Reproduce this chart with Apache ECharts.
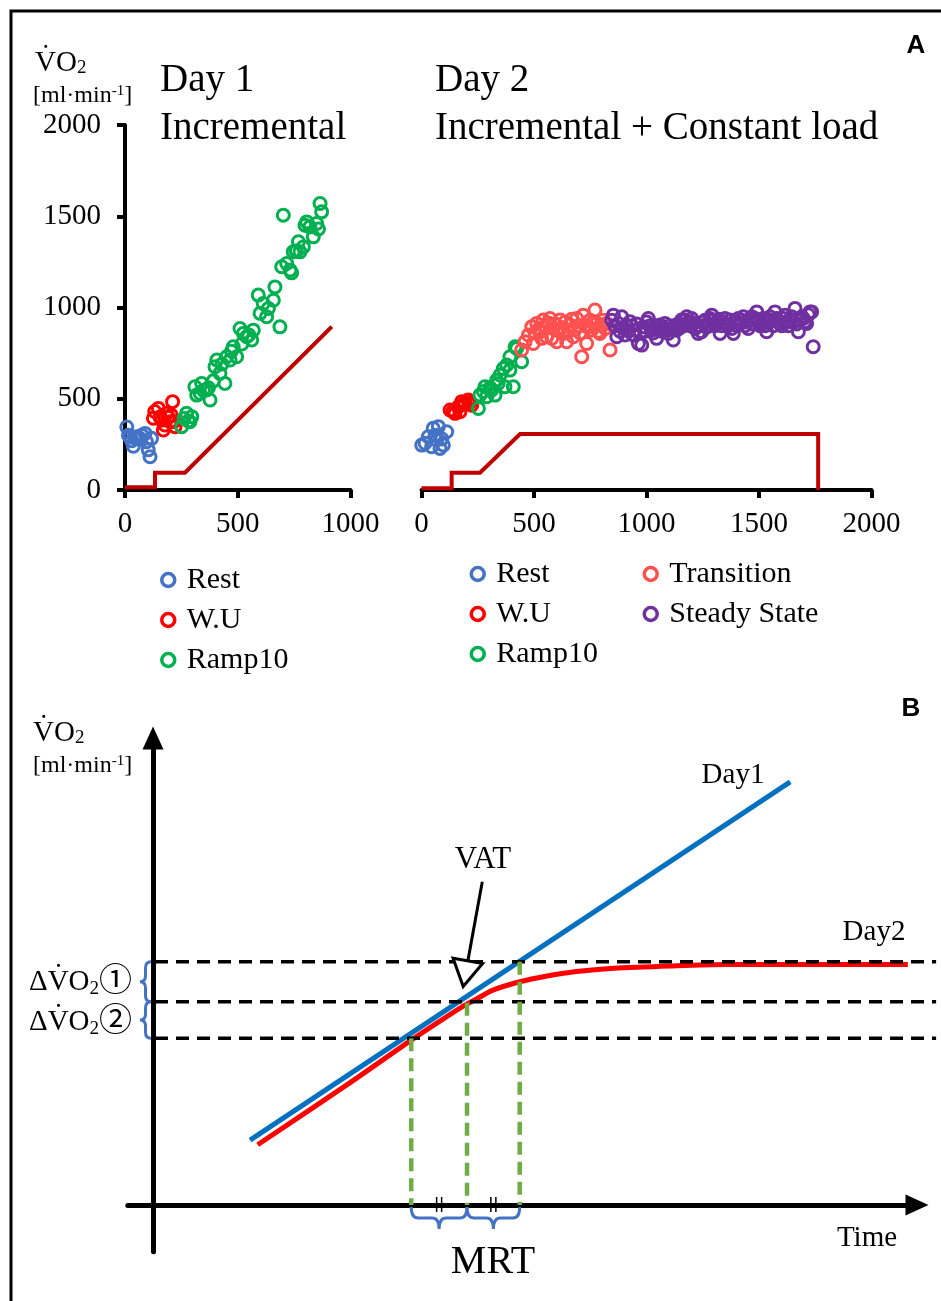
<!DOCTYPE html>
<html>
<head>
<meta charset="utf-8">
<script src="https://cdn.jsdelivr.net/npm/echarts@6/dist/echarts.min.js"></script>
<style>
  html, body { margin: 0; padding: 0; background: #fff; }
  #chart { width: 941px; height: 1301px; }
</style>
</head>
<body>
<div id="chart"></div>
<script>
// ---------- Panel A, Day 1: incremental test (time [s], VO2 [ml/min]) ----------
const day1Rest = [[8,345],[15,300],[22,290],[30,270],[37,240],[45,285],[52,292],[60,280],[66,283],[75,300],[89,310],[95,265],[103,220],[111,182],[118,283]];
const day1WarmUp = [[126,393],[132,430],[148,447],[155,400],[163,383],[170,329],[177,356],[185,420],[192,398],[200,374],[205,410],[211,484],[218,375],[222,347]];
const day1Ramp = [[251,347],[262,392],[273,420],[281,378],[288,374],[296,402],[310,566],[318,520],[333,530],[340,584],[348,545],[362,548],[370,560],[377,493],[392,598],[399,675],[407,712],[421,639],[430,690],[443,584],[451,730],[466,712],[472,760],[480,785],[495,730],[510,885],[518,800],[525,858],[540,840],[549,850],[562,822],[569,876],[591,1068],[599,968],[613,1022],[628,949],[636,995],[658,1040],[665,1113],[687,894],[695,1223],[702,1506],[717,1241],[732,1205],[739,1190],[746,1305],[760,1310],[769,1360],[776,1305],[791,1332],[798,1451],[806,1469],[820,1442],[835,1387],[850,1460],[858,1430],[865,1570],[872,1524]];
const day1Load = [[0,15],[133,15],[133,95],[266,95],[917,895]];

// ---------- Panel A, Day 2: incremental + constant load ----------
const day2Rest = [[1,246],[16,256],[30,292],[45,237],[52,338],[60,300],[67,274],[75,347],[82,228],[90,280],[97,246],[112,319]];
const day2WarmUp = [[127,438],[140,430],[149,420],[164,456],[171,429],[179,484],[186,470],[193,475],[208,493],[215,480],[223,465]];
const day2Ramp = [[253,447],[260,520],[275,540],[282,566],[290,511],[305,560],[312,548],[327,520],[334,602],[341,584],[349,630],[364,666],[371,566],[379,685],[393,657],[393,730],[408,566],[416,785],[423,776],[445,703]];
const day2Transition = [[445,767],[460,812],[475,849],[490,894],[497,803],[505,860],[512,913],[520,880],[527,867],[534,831],[541,931],[549,900],[556,840],[564,915],[571,940],[579,831],[586,885],[594,910],[601,812],[609,880],[616,931],[623,890],[630,858],[638,920],[645,812],[652,870],[660,904],[667,935],[675,840],[682,880],[690,940],[697,900],[705,860],[712,730],[719,958],[727,900],[734,803],[741,894],[749,930],[756,876],[764,915],[771,986],[779,913],[786,870],[793,858],[801,904],[808,930],[816,885],[823,913],[838,767]];
const day2Steady = [[845,930],[853,958],[860,900],[868,840],[875,913],[882,870],[890,949],[897,890],[904,849],[912,900],[920,870],[927,922],[934,900],[942,850],[949,876],[957,910],[964,803],[972,860],[979,794],[986,894],[994,870],[1001,920],[1008,940],[1016,900],[1023,876],[1030,860],[1038,900],[1045,831],[1053,880],[1060,904],[1068,870],[1075,890],[1082,913],[1090,880],[1097,858],[1104,900],[1112,880],[1119,822],[1127,900],[1134,876],[1141,910],[1149,890],[1156,931],[1164,900],[1171,930],[1179,949],[1186,920],[1194,900],[1201,940],[1208,915],[1216,885],[1223,900],[1230,858],[1238,900],[1245,867],[1253,920],[1260,930],[1268,894],[1275,900],[1282,940],[1290,958],[1297,930],[1305,900],[1312,913],[1320,935],[1327,858],[1334,900],[1342,920],[1349,940],[1357,910],[1364,900],[1371,931],[1379,885],[1386,858],[1393,920],[1401,900],[1408,940],[1416,913],[1423,930],[1430,949],[1438,900],[1445,920],[1452,885],[1460,930],[1468,949],[1475,910],[1482,940],[1490,976],[1497,930],[1505,900],[1512,913],[1519,940],[1527,900],[1534,867],[1542,920],[1549,949],[1556,930],[1564,900],[1571,976],[1579,940],[1586,920],[1593,913],[1601,900],[1608,940],[1616,958],[1623,920],[1630,900],[1638,931],[1645,949],[1652,920],[1660,995],[1667,910],[1675,867],[1682,930],[1690,949],[1697,940],[1704,922],[1712,913],[1719,960],[1727,976],[1734,976],[1741,785]];
const day2Load = [[0,10],[134,10],[134,95],[260,95],[438,307],[1763,307],[1763,0]];

const day1TimeTicks = [0, 1000, 500];   // min, max, step
const day2TimeTicks = [0, 2000, 500];
const vo2Ticks = [0, 2000, 500];

// ---------- Panel B: schematic (arbitrary time / VO2 units) ----------
const bTimeRange = [-3.3, 100];
const bVo2Range = [-10, 100];
const day1Line = [[12.7,13.9],[83.4,90.6]];
const day2Curve = [[13.7,12.9],[25.8,26.2],[33.7,35.2],[37.1,38.9],[40.6,42.6],[42.1,43.9],[44.5,46.0],[48.0,47.8],[51.4,49.0],[55.4,50.0],[60.3,50.7],[67.7,51.2],[75.1,51.5],[85.0,51.5],[98.8,51.5]];
const vo2Levels = [52.1, 43.5, 35.7];
const levelSpan = [0, 102.5];
const mrtDrops = [[33.8,35.7],[41.1,43.3],[48.0,52.1]];
const deltaBraces = [[52.1,43.5],[43.5,35.7]];
const mrtBraces = [[33.8,41.1],[41.1,48.0]];
const vatArrow = [[43.1,69.2,40.6,46.8]];

const COLORS = {
  'Rest': '#4472C4', 'W.U': '#FF0000', 'Ramp10': '#00B050',
  'Transition': '#FF5050', 'Steady State': '#7030A0'
};
const SERIF = "'Liberation Serif','Times New Roman','Noto Sans CJK JP',serif";
const LOAD_RED = '#C00000';

const chart = echarts.init(document.getElementById('chart'), null, { renderer: 'canvas' });

function scatter(name, data, idx) {
  return {
    type: 'scatter', name, data, xAxisIndex: idx, yAxisIndex: idx,
    symbol: 'circle', symbolSize: 12, silent: true, z: 3,
    itemStyle: { color: 'rgba(255,255,255,0)', borderColor: COLORS[name], borderWidth: 3, opacity: 1 }
  };
}
function loadLine(data, idx) {
  return {
    type: 'line', data, xAxisIndex: idx, yAxisIndex: idx, showSymbol: false, symbol: 'none',
    silent: true, z: 2, lineStyle: { color: LOAD_RED, width: 4, cap: 'butt', join: 'miter' }
  };
}
function legendItem(name) {
  return { name, icon: 'circle', itemStyle: { color: 'rgba(255,255,255,0)', borderColor: COLORS[name], borderWidth: 3.5, opacity: 1 } };
}
function legend(names, left, top) {
  return {
    data: names.map(legendItem), orient: 'vertical', left, top, padding: 0,
    itemWidth: 13, itemHeight: 13, itemGap: 10, selectedMode: false,
    textStyle: { fontFamily: SERIF, fontSize: 30, color: '#000', padding: [0, 0, 0, 7] }
  };
}
const plainNumber = (v) => String(v);
function timeAxis(grid, ticks) {
  return {
    type: 'value', gridIndex: grid, min: ticks[0], max: ticks[1], interval: ticks[2],
    axisLine: { show: true, onZero: true, lineStyle: { color: '#000', width: 4 } },
    axisTick: { show: true, length: 8, lineStyle: { color: '#000', width: 4 } },
    axisLabel: { show: true, fontFamily: SERIF, fontSize: 29, color: '#000', margin: 20, formatter: plainNumber },
    splitLine: { show: false }
  };
}

// Horizontal dashed reference level, running past the end of the time axis
function levelItem(params, api) {
  const a = api.coord([levelSpan[0], api.value(0)]);
  const b = api.coord([levelSpan[1], api.value(0)]);
  return { type: 'line', shape: { x1: a[0] + 2, y1: a[1], x2: b[0], y2: b[1] },
    style: { stroke: '#000', lineWidth: 3.5, lineDash: [13, 8], lineCap: 'butt' } };
}
// Braces drawn in pixel space from data positions
function braceLeft(params, api) {
  const a = api.coord([0, api.value(0)]);
  const b = api.coord([0, api.value(1)]);
  const x = a[0] - 2, d = 11, r = 6;
  const y1 = a[1], y2 = b[1], ym = (y1 + y2) / 2, xh = x - d / 2;
  const p = `M${x},${y1} Q${xh},${y1} ${xh},${y1 + r} L${xh},${ym - r} Q${xh},${ym} ${x - d},${ym} ` +
            `Q${xh},${ym} ${xh},${ym + r} L${xh},${y2 - r} Q${xh},${y2} ${x},${y2}`;
  return { type: 'path', shape: { pathData: p }, style: { stroke: '#4472C4', lineWidth: 3, fill: 'none' } };
}
function braceDown(params, api) {
  const a = api.coord([api.value(0), 0]);
  const b = api.coord([api.value(1), 0]);
  const y = a[1] + 2, d = 22, r = 7;
  const x1 = a[0], x2 = b[0], xm = (x1 + x2) / 2, yh = y + d / 2;
  const p = `M${x1},${y} Q${x1},${yh} ${x1 + r},${yh} L${xm - r},${yh} Q${xm},${yh} ${xm},${y + d} ` +
            `Q${xm},${yh} ${xm + r},${yh} L${x2 - r},${yh} Q${x2},${yh} ${x2},${y}`;
  const c = api.coord([(api.value(0) + api.value(1)) / 2, 0]);
  return {
    type: 'group', children: [
      { type: 'path', shape: { pathData: p }, style: { stroke: '#4472C4', lineWidth: 3, fill: 'none' } },
      { type: 'line', shape: { x1: c[0] - 2.5, y1: c[1] - 8, x2: c[0] - 2.5, y2: c[1] + 7 }, style: { stroke: '#000', lineWidth: 1.5 } },
      { type: 'line', shape: { x1: c[0] + 2.5, y1: c[1] - 8, x2: c[0] + 2.5, y2: c[1] + 7 }, style: { stroke: '#000', lineWidth: 1.5 } }
    ]
  };
}
function arrowItem(params, api) {
  const s = api.coord([api.value(0), api.value(1)]);
  const t = api.coord([api.value(2), api.value(3)]);
  const dx = t[0] - s[0], dy = t[1] - s[1], L = Math.hypot(dx, dy);
  const ux = dx / L, uy = dy / L, px = -uy, py = ux;
  const hl = 26, hw = 15;
  const bx = t[0] - ux * hl, by = t[1] - uy * hl;
  return {
    type: 'group', children: [
      { type: 'line', shape: { x1: s[0], y1: s[1], x2: bx, y2: by }, style: { stroke: '#000', lineWidth: 3 } },
      { type: 'polygon', shape: { points: [[bx + px * hw, by + py * hw], [t[0], t[1]], [bx - px * hw, by - py * hw]] },
        style: { fill: '#fff', stroke: '#000', lineWidth: 3, lineJoin: 'miter' } }
    ]
  };
}

function txt(x, y, text, size, extra) {
  return {
    type: 'text', x, y, silent: true, z: 20,
    style: Object.assign({
      text, fontSize: size, fontFamily: SERIF, fill: '#000',
      textAlign: 'left', textVerticalAlign: 'middle', align: 'left', verticalAlign: 'middle'
    }, extra || {})
  };
}
const voRich = (size, circ) => ({
  v: { fontSize: size, fontFamily: SERIF, fill: '#000' },
  s: { fontSize: Math.round(size * 0.64), fontFamily: SERIF, fill: '#000', verticalAlign: 'bottom' },
  c: { fontSize: circ || size, fontFamily: SERIF, fill: '#000' }
});
const unitRich = (size) => ({
  t: { fontSize: size, fontFamily: SERIF, fill: '#000' },
  u: { fontSize: Math.round(size * 0.62), fontFamily: SERIF, fill: '#000', verticalAlign: 'top' }
});

const series = [
  loadLine(day1Load, 0),
  scatter('Rest', day1Rest, 0),
  scatter('W.U', day1WarmUp, 0),
  scatter('Ramp10', day1Ramp, 0),
  loadLine(day2Load, 1),
  scatter('Rest', day2Rest, 1),
  scatter('W.U', day2WarmUp, 1),
  scatter('Ramp10', day2Ramp, 1),
  scatter('Transition', day2Transition, 1),
  scatter('Steady State', day2Steady, 1),
  { type: 'line', data: day1Line, xAxisIndex: 2, yAxisIndex: 2, symbol: 'none', silent: true, z: 2,
    lineStyle: { color: '#0070C0', width: 5, cap: 'butt' } },
  { type: 'line', data: day2Curve, xAxisIndex: 2, yAxisIndex: 2, symbol: 'none', silent: true, z: 2, smooth: 0.3,
    lineStyle: { color: '#FF0000', width: 5, cap: 'butt' } },
  { type: 'custom', data: vo2Levels.map(v => [v]), xAxisIndex: 2, yAxisIndex: 2, renderItem: levelItem,
    encode: { y: 0 }, silent: true, z: 4 }
];
mrtDrops.forEach(d => series.push({
  type: 'line', data: [[d[0], d[1]], [d[0], 0]], xAxisIndex: 2, yAxisIndex: 2,
  symbol: 'none', silent: true, clip: false, z: 5,
  lineStyle: { color: '#70AD47', width: 4.5, type: [13, 7], cap: 'butt' }
}));
series.push(
  { type: 'custom', data: deltaBraces, xAxisIndex: 2, yAxisIndex: 2, renderItem: braceLeft, silent: true, z: 6 },
  { type: 'custom', data: mrtBraces, xAxisIndex: 2, yAxisIndex: 2, renderItem: braceDown, silent: true, z: 6 },
  { type: 'custom', data: vatArrow, xAxisIndex: 2, yAxisIndex: 2, renderItem: arrowItem, silent: true, z: 7 }
);

const option = {
  animation: false,
  backgroundColor: '#fff',
  grid: [
    { left: 125, top: 125, width: 225.5, height: 365, outerBoundsMode: 'none' },
    { left: 421.5, top: 125, width: 450, height: 365, outerBoundsMode: 'none' },
    { left: 127.8, top: 738, width: 789.2, height: 513.7, outerBoundsMode: 'none' }
  ],
  xAxis: [
    timeAxis(0, day1TimeTicks),
    timeAxis(1, day2TimeTicks),
    { type: 'value', gridIndex: 2, min: bTimeRange[0], max: bTimeRange[1],
      axisLine: { show: true, onZero: true, symbol: ['none', 'triangle'], symbolSize: [21, 23],
        lineStyle: { color: '#000', width: 5 } },
      axisTick: { show: false }, axisLabel: { show: false }, splitLine: { show: false } }
  ],
  yAxis: [
    { type: 'value', gridIndex: 0, min: vo2Ticks[0], max: vo2Ticks[1], interval: vo2Ticks[2],
      axisLine: { show: true, onZero: true, lineStyle: { color: '#000', width: 4 } },
      axisTick: { show: true, length: 8, lineStyle: { color: '#000', width: 4 } },
      axisLabel: { show: true, fontFamily: SERIF, fontSize: 29, color: '#000', margin: 24, formatter: plainNumber },
      splitLine: { show: false } },
    { type: 'value', gridIndex: 1, min: vo2Ticks[0], max: vo2Ticks[1], show: false,
      axisLine: { show: false }, splitLine: { show: false } },
    { type: 'value', gridIndex: 2, min: bVo2Range[0], max: bVo2Range[1],
      axisLine: { show: true, onZero: true, symbol: ['none', 'triangle'], symbolSize: [21, 23],
        lineStyle: { color: '#000', width: 5 } },
      axisTick: { show: false }, axisLabel: { show: false }, splitLine: { show: false } }
  ],
  legend: [
    legend(['Rest', 'W.U', 'Ramp10'], 160, 565),
    legend(['Rest', 'W.U', 'Ramp10'], 469.5, 559),
    legend(['Transition', 'Steady State'], 642.5, 559)
  ],
  graphic: [
    { type: 'polyline', silent: true, z: 30, shape: { points: [[11, 1301], [11, 11], [941, 11]] },
      style: { stroke: '#000', lineWidth: 3, fill: 'none' } },
    { type: 'text', x: 916, y: 46, silent: true, z: 20,
      style: { text: 'A', fontSize: 26, fontWeight: 'bold', fontFamily: "'Liberation Sans',Arial,sans-serif", fill: '#000',
        textAlign: 'center', textVerticalAlign: 'middle', align: 'center', verticalAlign: 'middle' } },
    { type: 'text', x: 911, y: 709, silent: true, z: 20,
      style: { text: 'B', fontSize: 26, fontWeight: 'bold', fontFamily: "'Liberation Sans',Arial,sans-serif", fill: '#000',
        textAlign: 'center', textVerticalAlign: 'middle', align: 'center', verticalAlign: 'middle' } },
    txt(160, 81, 'Day 1', 39),
    txt(160, 129, 'Incremental', 39),
    txt(435, 81, 'Day 2', 39),
    txt(435, 129, 'Incremental + Constant load', 39),
    txt(35, 63, '{v|V\u0307O}{s|2}', 29, { rich: voRich(29) }),
    txt(33, 96, '{t|[ml\u00B7min}{u|-1}{t|]}', 24, { rich: unitRich(24) }),
    txt(33, 733, '{v|V\u0307O}{s|2}', 29, { rich: voRich(29) }),
    txt(33, 766, '{t|[ml\u00B7min}{u|-1}{t|]}', 24, { rich: unitRich(24) }),
    txt(29, 982, '{v|\u0394V\u0307O}{s|2}{c|\u2460}', 29, { rich: voRich(29, 33) }),
    txt(29, 1022, '{v|\u0394V\u0307O}{s|2}{c|\u2461}', 29, { rich: voRich(29, 33) }),
    txt(483, 860, 'VAT', 31, { textAlign: 'center', align: 'center' }),
    txt(733, 775, 'Day1', 29, { textAlign: 'center', align: 'center' }),
    txt(874, 932, 'Day2', 29, { textAlign: 'center', align: 'center' }),
    txt(867, 1238, 'Time', 29, { textAlign: 'center', align: 'center' }),
    txt(493, 1262, 'MRT', 40, { textAlign: 'center', align: 'center' })
  ],
  series
};
chart.setOption(option);
</script>
</body>
</html>
